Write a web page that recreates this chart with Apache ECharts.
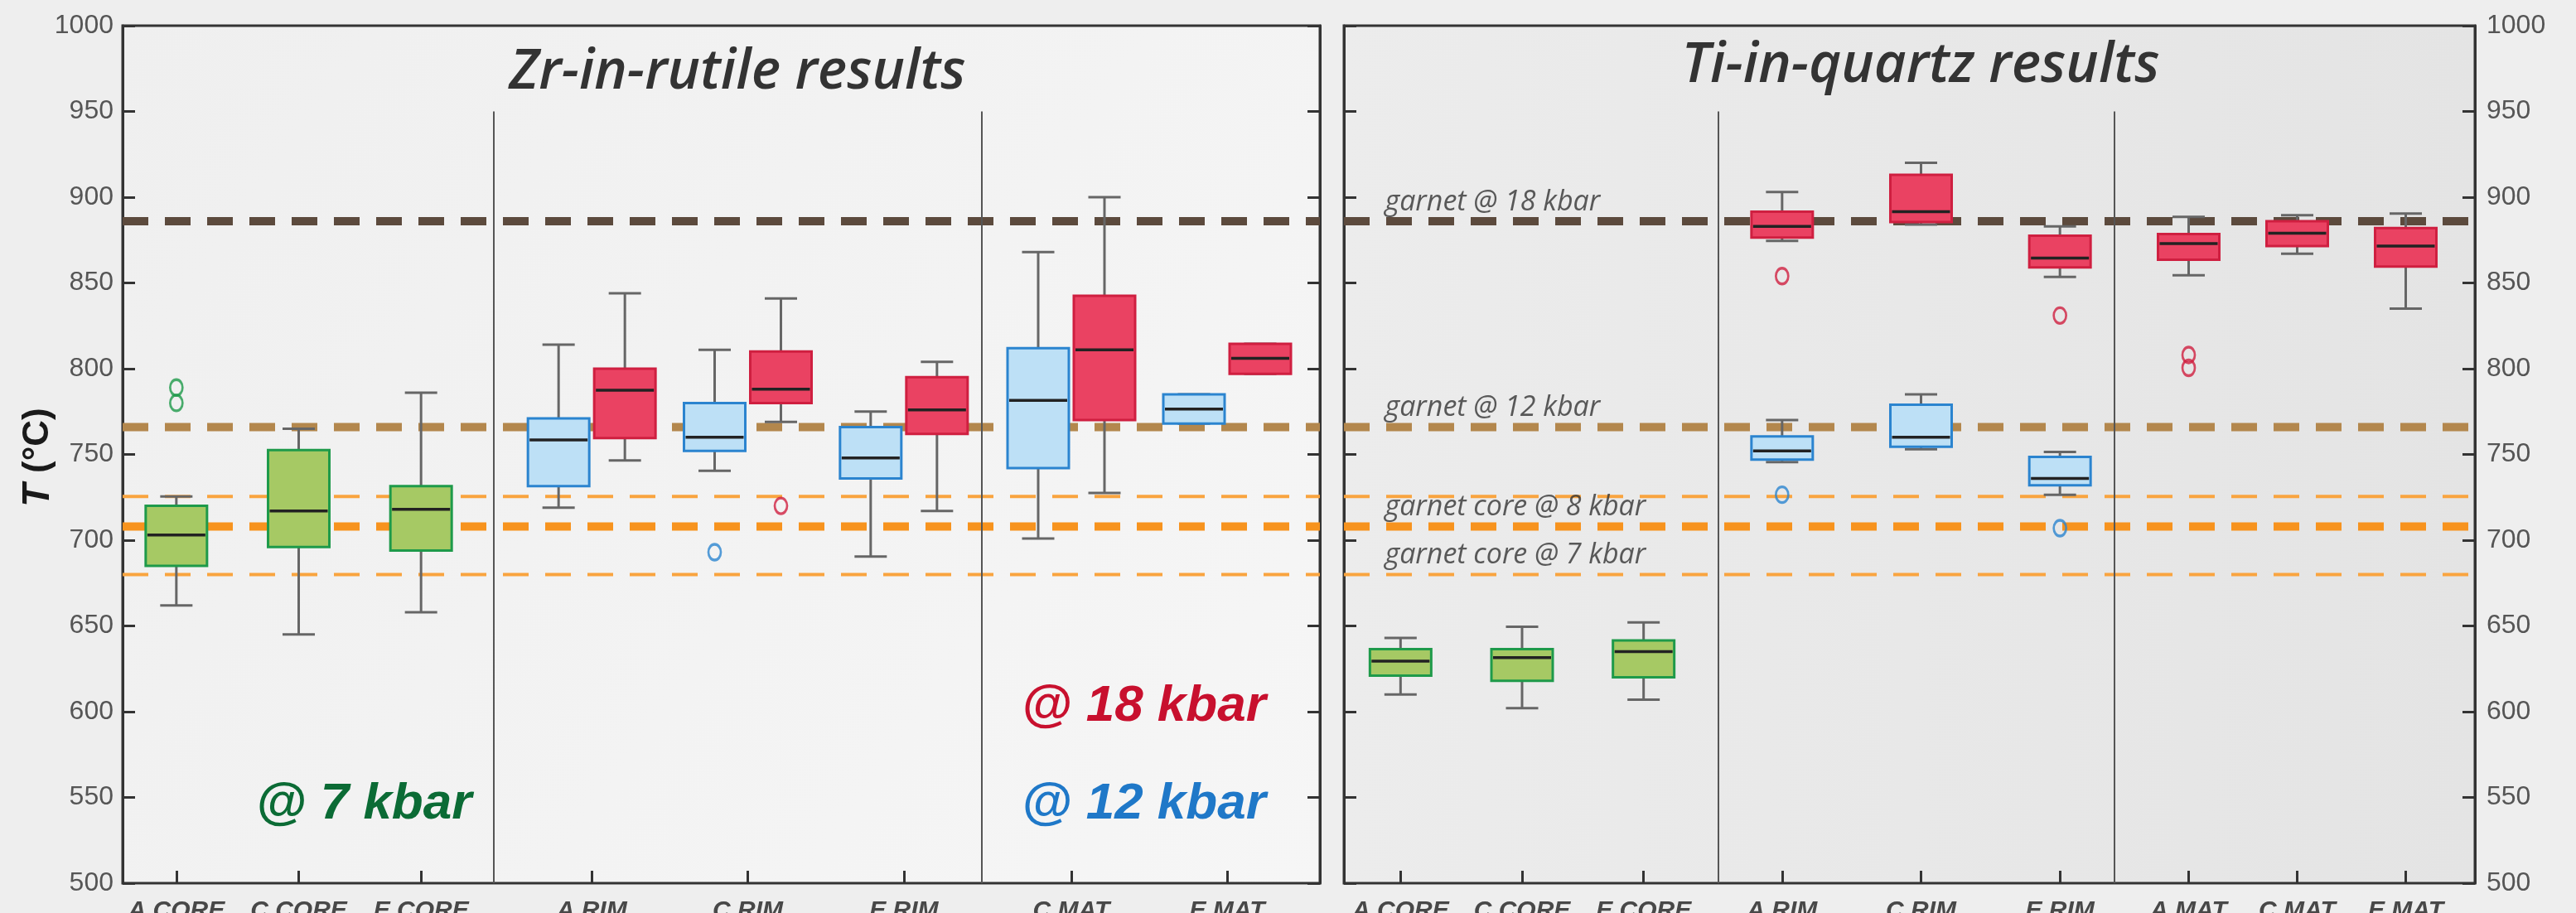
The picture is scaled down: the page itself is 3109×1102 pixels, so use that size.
<!DOCTYPE html>
<html><head><meta charset="utf-8">
<script src="https://cdn.jsdelivr.net/npm/echarts@6/dist/echarts.min.js"></script>
<style>html,body{margin:0;padding:0;background:#ededed;overflow:hidden}#c{width:3109px;height:1102px}</style>
</head><body><div id="c"></div>
<script>
// ================= DATA =================
const coreCats = ['A CORE', 'C CORE', 'E CORE'];
const rimCats = ['A RIM', 'C RIM', 'E RIM'];
const zrMatCats = ['C MAT', 'E MAT'];
const tiMatCats = ['A MAT', 'C MAT', 'E MAT'];

// box values: [min, Q1, median, Q3, max] in °C
// Zr-in-rutile
const zrCore7 = [[662, 685, 703, 720, 725.5], [645, 696, 717, 752.5, 765], [658, 694, 718, 731.5, 786]];
const zrCore7Out = [['A CORE', 789], ['A CORE', 780]];
const zrRim12 = [[719, 731.5, 758.5, 771, 814], [740.5, 752, 760, 780, 811], [690.5, 736, 748, 766, 775]];
const zrRim12Out = [['C RIM', 693]];
const zrRim18 = [[746.5, 759.5, 787.5, 800, 844], [769, 780, 788, 810, 841], [717, 762, 776, 795, 804]];
const zrRim18Out = [['C RIM', 720]];
const zrMat12 = [[701, 742, 781.5, 812, 868], [768, 768, 776.5, 785, 785]];
const zrMat18 = [[727.5, 770, 811, 842.5, 900], [797, 797, 806, 814.5, 814.5]];

// Ti-in-quartz
const tiCore7 = [[610, 621, 629.5, 636.5, 643], [602, 618, 631.5, 636.5, 649.5], [607, 620, 635, 641.5, 652]];
const tiRim12 = [[745.5, 747, 752, 760.5, 770], [753, 754.5, 760, 779, 785], [726.5, 732, 736, 748.5, 751.5]];
const tiRim12Out = [['A RIM', 726.5], ['E RIM', 707]];
const tiRim18 = [[874.5, 876.5, 883, 891.5, 903], [884, 885.5, 891.5, 913, 920], [853.5, 859, 864.5, 877.5, 883]];
const tiRim18Out = [['A RIM', 854], ['E RIM', 831]];
const tiMat18 = [[854.5, 863.5, 873, 878.5, 888.5], [867, 871.5, 879, 886, 889.5], [835, 859.5, 871.5, 882, 890.5]];
const tiMat18Out = [['A MAT', 808], ['A MAT', 800.5]];

// reference temperatures (garnet)
const refTemps = [886, 766, 708, 725.5, 680];
const refNames = ['garnet @ 18 kbar', 'garnet @ 12 kbar', 'garnet core @ 8 kbar', '', 'garnet core @ 7 kbar'];

const yMin = 500, yMax = 1000, yStep = 50;
const sepTop = 950;

// ================= STYLE / LAYOUT =================
const refColors = ['#5c4a3d', '#b3874d', '#f7931e', '#f9a43f', '#f9a43f'];
const refWidths = [10, 10, 10, 4, 4];
const GREEN = {fill: '#a6c964', stroke: '#1e9a4a'};
const BLUE = {fill: '#bde0f6', stroke: '#2b84cf'};
const RED = {fill: '#ea4262', stroke: '#cf1f40'};
const BOX_W = 74, CAP_W = 39, WHISKER = '#666';
const TOP = 31, H = 1035;
const PAIR = 40;

const layout = {
  zr: {frame: [148, 1593], core: [139, 582], rim: [620, 1185], mat: [1199, 1575], seps: [596, 1185],
       bg: {type: 'linear', x: 0, y: 0, x2: 1, y2: 1, colorStops: [{offset: 0, color: '#efefef'}, {offset: 1, color: '#f6f6f6'}]}},
  ti: {frame: [1622, 2987], core: [1617, 2057], rim: [2067, 2570], mat: [2576, 2969], seps: [2074, 2552],
       bg: {type: 'linear', x: 0, y: 0, x2: 1, y2: 0, colorStops: [{offset: 0, color: '#ececec'}, {offset: 1, color: '#e4e4e4'}]}}
};

const FONT = '"Liberation Sans", Arial, sans-serif';
const grids = [], xAxes = [], yAxes = [], series = [];

function addGrid(x0, x1, frame, bg) {
  const g = {left: x0, width: x1 - x0, top: TOP, height: H, outerBoundsMode: 'none', containLabel: false};
  if (frame) Object.assign(g, {show: true, borderColor: '#333', borderWidth: 3, backgroundColor: bg});
  grids.push(g);
  return grids.length - 1;
}
function frameY(gi, pos, labels) {
  yAxes.push({type: 'value', gridIndex: gi, position: pos, min: yMin, max: yMax, interval: yStep,
    axisLine: {show: true, lineStyle: {color: '#333', width: 3}},
    axisTick: {show: true, inside: true, length: 15, lineStyle: {color: '#333', width: 3}},
    axisLabel: {show: labels, margin: pos === 'left' ? 11 : 14, fontSize: 32, color: '#555', fontFamily: FONT,
      formatter: v => String(v)},
    splitLine: {show: false}});
  return yAxes.length - 1;
}
function secAxes(gi, cats) {
  xAxes.push({type: 'category', gridIndex: gi, data: cats, position: 'bottom',
    axisLine: {show: false},
    axisTick: {show: true, inside: true, alignWithLabel: true, length: 15, lineStyle: {color: '#333', width: 3}},
    axisLabel: {margin: 19, fontSize: 30, fontWeight: 'bold', fontStyle: 'italic', color: '#484848', fontFamily: FONT, interval: 0},
    splitLine: {show: false}});
  yAxes.push({type: 'value', gridIndex: gi, min: yMin, max: yMax, show: false});
  return [xAxes.length - 1, yAxes.length - 1];
}

function boxRenderer(col, dx) {
  return function (params, api) {
    const c = api.value(0);
    const pLo = api.coord([c, api.value(1)]);
    const pQ1 = api.coord([c, api.value(2)]);
    const pMd = api.coord([c, api.value(3)]);
    const pQ3 = api.coord([c, api.value(4)]);
    const pHi = api.coord([c, api.value(5)]);
    const x = pMd[0] + dx, hb = BOX_W / 2, hc = CAP_W / 2;
    const wl = {stroke: WHISKER, lineWidth: 3};
    return {type: 'group', children: [
      {type: 'line', shape: {x1: x, y1: pHi[1], x2: x, y2: pQ3[1]}, style: wl},
      {type: 'line', shape: {x1: x, y1: pQ1[1], x2: x, y2: pLo[1]}, style: wl},
      {type: 'line', shape: {x1: x - hc, y1: pHi[1], x2: x + hc, y2: pHi[1]}, style: wl},
      {type: 'line', shape: {x1: x - hc, y1: pLo[1], x2: x + hc, y2: pLo[1]}, style: wl},
      {type: 'rect', shape: {x: x - hb, y: pQ3[1], width: BOX_W, height: pQ1[1] - pQ3[1]},
        style: {fill: col.fill, stroke: col.stroke, lineWidth: 3}},
      {type: 'line', shape: {x1: x - hb + 2, y1: pMd[1], x2: x + hb - 2, y2: pMd[1]},
        style: {stroke: '#222', lineWidth: 3.5}}
    ]};
  };
}
function addBoxes(ax, cats, vals, col, dx) {
  series.push({type: 'custom', xAxisIndex: ax[0], yAxisIndex: ax[1], z: 4, silent: true,
    renderItem: boxRenderer(col, dx), encode: {x: 0, y: [1, 2, 3, 4, 5]},
    data: cats.map((c, i) => [c].concat(vals[i]))});
}
function addOut(ax, pts, col, dx) {
  series.push({type: 'scatter', xAxisIndex: ax[0], yAxisIndex: ax[1], z: 5, silent: true,
    symbol: 'circle', symbolSize: [15, 19], symbolOffset: [dx, 0],
    itemStyle: {color: 'rgba(0,0,0,0)', borderColor: col.stroke, borderWidth: 3},
    data: pts});
}
function addRefLines(gi, yi, withLabels) {
  xAxes.push({type: 'value', gridIndex: gi, min: 0, max: 1, show: false});
  const xi = xAxes.length - 1;
  refTemps.forEach((t, i) => {
    series.push({type: 'line', xAxisIndex: xi, yAxisIndex: yi, z: 2, silent: true, symbol: 'none',
      lineStyle: {color: refColors[i], width: refWidths[i], type: [31, 20], cap: 'butt'},
      data: [[0, t], [1, t]]});
  });
  if (withLabels) {
    series.push({type: 'scatter', xAxisIndex: xi, yAxisIndex: yi, z: 6, silent: true,
      symbolSize: 1, itemStyle: {color: 'rgba(0,0,0,0)'},
      label: {show: true, formatter: '{b}', position: 'right', offset: [44, -6], verticalAlign: 'bottom',
        fontFamily: '"Open Sans", sans-serif', fontStyle: 'italic', fontSize: 34, color: '#333'},
      data: refTemps.map((t, i) => refNames[i] ? {name: refNames[i], value: [0, t]} : null).filter(Boolean)});
  }
}

// ---- left panel: Zr-in-rutile ----
let L = layout.zr;
let gF = addGrid(L.frame[0], L.frame[1], true, L.bg);
let yl = frameY(gF, 'left', true); frameY(gF, 'right', false);
addRefLines(gF, yl, false);
let a = secAxes(addGrid(L.core[0], L.core[1]), coreCats);
addBoxes(a, coreCats, zrCore7, GREEN, 0); addOut(a, zrCore7Out, GREEN, 0);
a = secAxes(addGrid(L.rim[0], L.rim[1]), rimCats);
addBoxes(a, rimCats, zrRim12, BLUE, -PAIR); addOut(a, zrRim12Out, BLUE, -PAIR);
addBoxes(a, rimCats, zrRim18, RED, PAIR); addOut(a, zrRim18Out, RED, PAIR);
a = secAxes(addGrid(L.mat[0], L.mat[1]), zrMatCats);
addBoxes(a, zrMatCats, zrMat12, BLUE, -PAIR);
addBoxes(a, zrMatCats, zrMat18, RED, PAIR);

// ---- right panel: Ti-in-quartz ----
L = layout.ti;
gF = addGrid(L.frame[0], L.frame[1], true, L.bg);
yl = frameY(gF, 'left', false); frameY(gF, 'right', true);
addRefLines(gF, yl, true);
a = secAxes(addGrid(L.core[0], L.core[1]), coreCats);
addBoxes(a, coreCats, tiCore7, GREEN, 0);
a = secAxes(addGrid(L.rim[0], L.rim[1]), rimCats);
addBoxes(a, rimCats, tiRim18, RED, 0); addOut(a, tiRim18Out, RED, 0);
addBoxes(a, rimCats, tiRim12, BLUE, 0); addOut(a, tiRim12Out, BLUE, 0);
a = secAxes(addGrid(L.mat[0], L.mat[1]), tiMatCats);
addBoxes(a, tiMatCats, tiMat18, RED, 0); addOut(a, tiMat18Out, RED, 0);

const chart = echarts.init(document.getElementById('c'), null, {renderer: 'canvas'});
chart.setOption({
  backgroundColor: '#eeeeee',
  animation: false,
  grid: grids, xAxis: xAxes, yAxis: yAxes, series: series
});

// decorations: section separators, titles, annotations
const yTopPx = chart.convertToPixel({yAxisIndex: 0}, sepTop);
const yBotPx = chart.convertToPixel({yAxisIndex: 0}, yMin);
const sepX = layout.zr.seps.concat(layout.ti.seps);
const titleFont = 'italic 600 67px "Open Sans", sans-serif';
const annFont = 'italic bold 62px "Liberation Sans", Arial, sans-serif';
const gfx = sepX.map(x => ({type: 'line', silent: true, z: 3,
  shape: {x1: x, y1: yTopPx, x2: x, y2: yBotPx}, style: {stroke: '#555', lineWidth: 2}}));
gfx.push(
  {type: 'text', x: 890, y: 88, z: 10, style: {text: 'Zr-in-rutile results', font: titleFont, fill: '#333', align: 'center', verticalAlign: 'middle'}},
  {type: 'text', x: 2318, y: 80, z: 10, style: {text: 'Ti-in-quartz results', font: titleFont, fill: '#333', align: 'center', verticalAlign: 'middle'}},
  {type: 'text', x: 309, y: 971, z: 10, style: {text: '@ 7 kbar', font: annFont, fill: '#0b6b35', align: 'left', verticalAlign: 'middle'}},
  {type: 'text', x: 1233, y: 853, z: 10, style: {text: '@ 18 kbar', font: annFont, fill: '#c8102e', align: 'left', verticalAlign: 'middle'}},
  {type: 'text', x: 1233, y: 971, z: 10, style: {text: '@ 12 kbar', font: annFont, fill: '#1f78c8', align: 'left', verticalAlign: 'middle'}},
  {type: 'text', x: 46, y: 552, rotation: Math.PI / 2, z: 10, style: {
    text: '{t|T }{u|(°C)}', align: 'center', verticalAlign: 'middle',
    rich: {t: {font: 'italic bold 46px "Liberation Sans", Arial, sans-serif', fill: '#1a1a1a'},
           u: {font: 'bold 44px "Liberation Sans", Arial, sans-serif', fill: '#1a1a1a'}}}}
);
chart.setOption({graphic: gfx});
</script>
</body></html>
